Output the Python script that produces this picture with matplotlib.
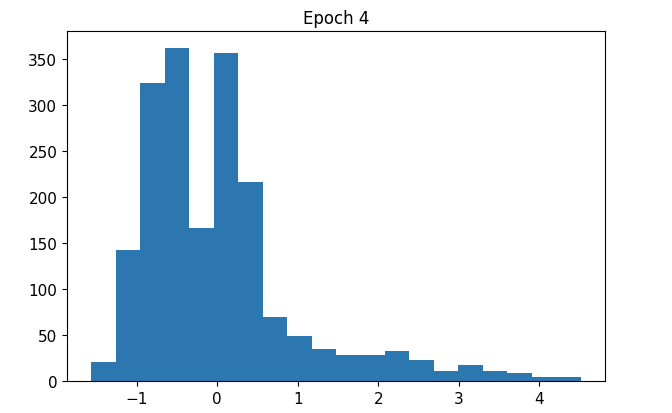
import matplotlib.pyplot as plt
import numpy as np

# histogram counts, 20 equal bins
counts = [21, 142, 324, 362, 166, 356, 216, 70, 49, 35,
          28, 28, 33, 23, 11, 17, 11, 9, 4, 4]
lo = -1.56
hi = 4.51
edges = np.linspace(lo, hi, len(counts) + 1)
title = "Epoch 4"

fig = plt.figure(figsize=(6.72, 4.14), dpi=100)
ax = fig.add_axes([67 / 672, 32 / 414, 538 / 672, 350 / 414])
ax.hist(edges[:-1], bins=edges, weights=counts, color="#2c77b0")
ax.set_title(title, fontsize=12)
ax.tick_params(labelsize=11)
ax.set_yticks([0, 50, 100, 150, 200, 250, 300, 350])

plt.savefig("out.png")
